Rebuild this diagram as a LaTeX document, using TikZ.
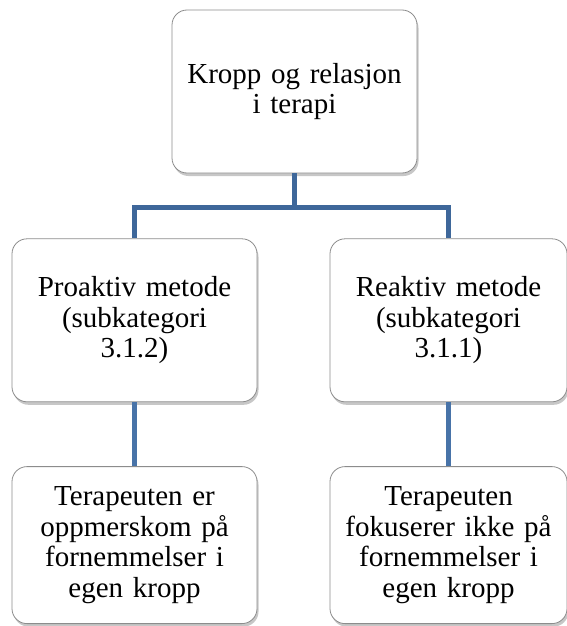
\documentclass[tikz,border=0pt]{standalone}
\usepackage{fontspec}
\setmainfont{Liberation Serif}
\usepackage{xcolor}
\usepackage{tikz}
\usetikzlibrary{positioning, shadows}

\definecolor{linjeblaa}{RGB}{62,103,154}
\definecolor{linjeblaa2}{RGB}{72,115,168}
\definecolor{kantgraa}{RGB}{140,140,140}

\begin{document}
\begin{tikzpicture}[x=1pt, y=1pt,
    boks/.style={draw=kantgraa, line width=0.8pt, fill=white, rectangle, rounded corners=15pt,
      minimum width=245pt, minimum height=163pt, text width=230pt, align=center, inner sep=0pt,
      font=\fontsize{29}{30.5}\selectfont,
      drop shadow={shadow xshift=1.5pt, shadow yshift=-3pt, fill=black, opacity=0.22}},
    forbindelse/.style={draw=linjeblaa, line width=4.5pt},
    forbindelse2/.style={draw=linjeblaa2, line width=4.5pt}]
    \useasboundingbox (0,0) rectangle (566,-626);

    \node[boks] (kropp) at (294.5,-91.5) {Kropp og relasjon\\ i terapi};
    \node[boks, below=65pt of kropp, xshift=-160pt] (proaktiv) {Proaktiv metode\\ (subkategori\\ 3.1.2)};
    \node[boks, below=65pt of kropp, xshift=154pt, minimum width=237pt] (reaktiv) {Reaktiv metode\\ (subkategori\\ 3.1.1)};
    \node[boks, below=64pt of proaktiv, minimum height=157pt] (oppmerksom) {Terapeuten er\\ oppmerskom på\\ fornemmelser i\\ egen kropp};
    \node[boks, below=64pt of reaktiv, minimum width=237pt, minimum height=157pt] (fokus) {Terapeuten\\ fokuserer ikke på\\ fornemmelser i\\ egen kropp};

    % Tre fra toppen ned til de to metodene
    \draw[forbindelse] (kropp.south) -- ++(0,-34) coordinate (deling) -| (proaktiv.north);
    \draw[forbindelse] (deling) -| (reaktiv.north);

    % Hver metode ned til sin boks
    \draw[forbindelse2] (proaktiv.south) -- (oppmerksom.north);
    \draw[forbindelse2] (reaktiv.south) -- (fokus.north);
\end{tikzpicture}
\end{document}
